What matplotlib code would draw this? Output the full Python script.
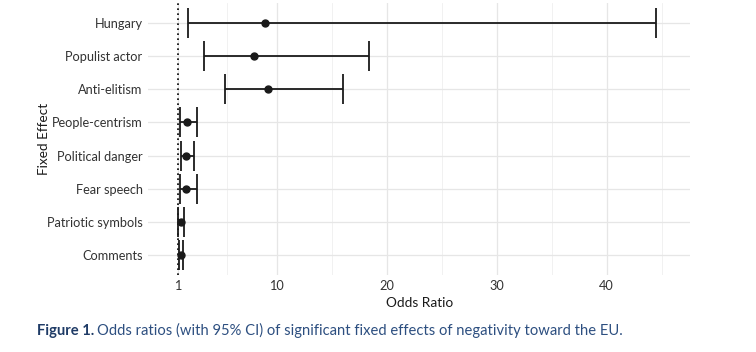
import matplotlib
matplotlib.use('Agg')
import matplotlib.pyplot as plt

# Fixed effects, top to bottom as shown
effects = ['Hungary', 'Populist actor', 'Anti-elitism', 'People-centrism',
           'Political danger', 'Fear speech', 'Patriotic symbols', 'Comments']
odds = [8.9, 7.9, 9.2, 1.84, 1.75, 1.77, 1.25, 1.3]
ci_low = [1.95, 3.4, 5.3, 1.23, 1.25, 1.17, 1.05, 1.1]
ci_high = [44.5, 18.4, 16.0, 2.7, 2.5, 2.7, 1.6, 1.5]
xticks = [1, 10, 20, 30, 40]

plt.rcParams['font.family'] = ['Lato', 'DejaVu Sans']

fig = plt.figure(figsize=(7.56, 3.52), dpi=100)
ax = fig.add_axes([0.196, 0.219, 0.717, 0.772])

n = len(effects)
ypos = [n - i for i in range(n)]
xerr = [[o - l for o, l in zip(odds, ci_low)], [h - o for o, h in zip(odds, ci_high)]]
ax.errorbar(odds, ypos, xerr=xerr, fmt='o', color='#1a1a1a', ms=5,
            elinewidth=1.3, capsize=10.8, capthick=1.3, zorder=3)
ax.axvline(1, color='black', ls=(0, (1, 2)), lw=1.2, zorder=2)

ax.set_xlim(-1.7, 47.6)
ax.set_ylim(0.4, n + 0.6)
ax.set_xticks(xticks)
ax.set_xticks([5.5, 15, 25, 35, 45], minor=True)
ax.set_yticks(ypos)
ax.set_yticklabels(effects)
ax.grid(True, which='major', color='#e6e6e6', lw=0.9)
ax.grid(True, which='minor', axis='x', color='#efefef', lw=0.6)
ax.set_axisbelow(True)
for s in ax.spines.values():
    s.set_visible(False)
ax.tick_params(length=0, labelsize=9.2, pad=4)
ax.tick_params(which='minor', length=0)
for t in ax.get_xticklabels() + ax.get_yticklabels():
    t.set_color('#333333')

ax.set_xlabel('Odds Ratio', fontsize=9.8, color='#1a1a1a', labelpad=3)
ax.set_ylabel('Fixed Effect', fontsize=9.8, color='#1a1a1a', labelpad=0)
ax.yaxis.set_label_coords(-0.181, 0.5)

fig.text(0.049, 0.06, 'Figure 1.', fontsize=10.6, fontweight='bold', color='#1f3b66',
         va='center')
fig.text(0.128, 0.06, 'Odds ratios (with 95% CI) of significant fixed effects of negativity toward the EU.',
         fontsize=10.6, color='#2d4f80', va='center')

fig.savefig('out.png', dpi=100)
